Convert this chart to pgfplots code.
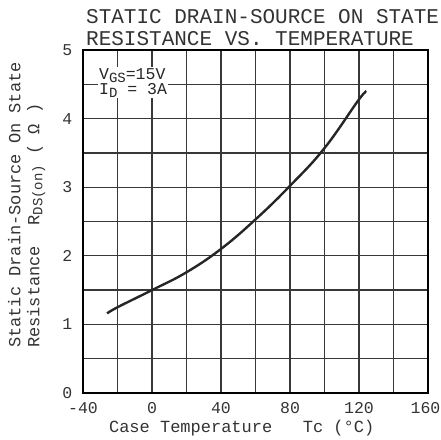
\documentclass[border=0pt]{standalone}
\usepackage{fontspec}
\setmainfont{Liberation Mono}
\usepackage{pgfplots}
\pgfplotsset{compat=1.18}
\newcommand{\sub}[1]{\raisebox{-0.35ex}{\fontsize{14}{14}\selectfont #1}}
\begin{document}
\begin{tikzpicture}
\useasboundingbox (-83pt,-46pt) rectangle (358pt,393pt);
\begin{axis}[
  at={(0pt,0pt)}, anchor=south west,
  scale only axis, width=345pt, height=343pt,
  xmin=-40, xmax=160, ymin=0, ymax=5,
  xtick={-40,0,40,80,120,160}, ytick={0,1,2,3,4,5},
  xticklabels={-40,0,40,80,120,\hspace*{-5pt}160},
  minor x tick num=1, minor y tick num=1,
  grid=both,
  major grid style={line width=1.3pt, color=black!78},
  minor grid style={line width=1.3pt, color=black!78},
  major tick length=0pt, minor tick length=0pt,
  axis line style={line width=1.8pt},
  /pgf/number format/assume math mode=true,
  ticklabel style={font=\fontsize{16.5}{18}\selectfont, text=black!80, inner sep=0.5pt},
  yticklabel style={xshift=-10pt},
  xticklabel style={yshift=-9pt},
  xlabel={Case Temperature\ \ \ Tc (°C)},
  xlabel style={font=\fontsize{17}{19}\selectfont, text=black!80, at={(axis description cs:0.46,0)}, anchor=base, yshift=-39pt},
  ylabel={Static Drain-Source On State\\Resistance\ \ R\sub{DS(on)}\ ( Ω )},
  ylabel style={font=\fontsize{17}{19}\selectfont, text=black!80, align=left, at={(axis description cs:-0.099,0.548)}, rotate=0, anchor=south},
  clip=false,
]
\addplot[line width=2.4pt, color=black!85, smooth, tension=0.7] coordinates {
  (-26,1.16) (-20,1.25) (0,1.5) (20,1.76) (40,2.1) (60,2.53) (80,3.02) (100,3.57) (120,4.28) (124,4.38)
};
\node[fill=white, inner sep=1pt, align=left, font=\fontsize{16.5}{15}\selectfont, text=black!85] at (axis cs:-11,4.52)
  {V\sub{GS}=15V\\I\sub{D} = 3A};
\node[anchor=base west, inner sep=0pt, font=\fontsize{21}{22}\selectfont, text=black!80] at ([xshift=3pt,yshift=27pt]axis description cs:0,1) {STATIC DRAIN-SOURCE ON STATE};
\node[anchor=base west, inner sep=0pt, font=\fontsize{21}{22}\selectfont, text=black!80] at ([xshift=3pt,yshift=5pt]axis description cs:0,1) {RESISTANCE VS. TEMPERATURE};
\end{axis}
\end{tikzpicture}
\end{document}
